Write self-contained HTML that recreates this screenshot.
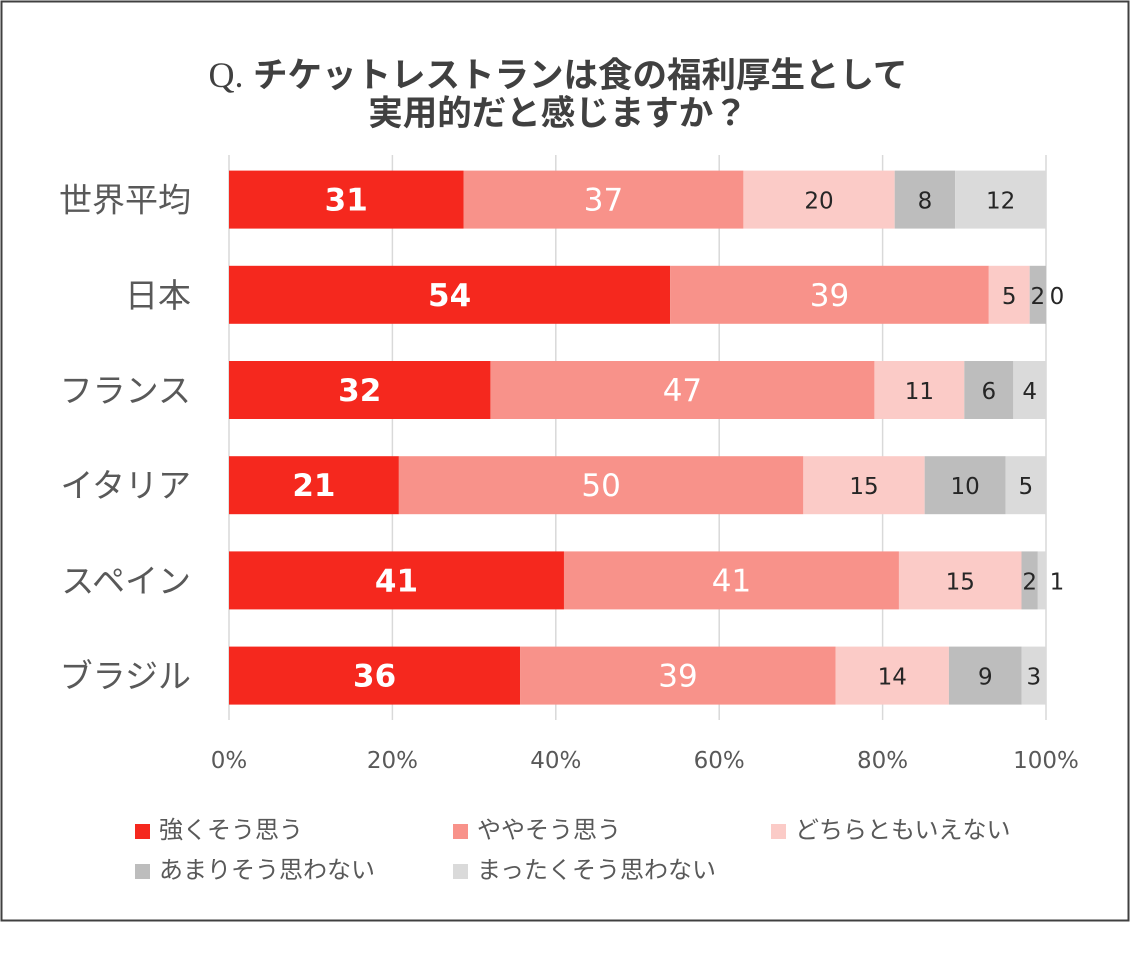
<!DOCTYPE html>
<html><head><meta charset="utf-8"><style>
body{margin:0;background:#fff;}
svg text{font-family:"Liberation Sans","Noto Sans CJK JP",sans-serif;}
svg text.num{font-family:"DejaVu Sans",sans-serif;}
</style></head><body>
<svg width="1131" height="948" xmlns="http://www.w3.org/2000/svg">
<rect x="1.5" y="1.5" width="1127" height="919" fill="#fff" stroke="#404040" stroke-width="2"/>
<text x="558" y="87" text-anchor="middle" font-size="34.5" font-weight="bold" fill="#404040"><tspan font-family="Liberation Serif" font-weight="normal" font-size="36">Q.</tspan> チケットレストランは食の福利厚生として</text>
<text x="558" y="125" text-anchor="middle" font-size="34.5" font-weight="bold" fill="#404040">実用的だと感じますか？</text>
<g id="grid"></g><g id="bars"></g><g id="legend"></g>
</svg>
<script>
const categories=["世界平均","日本","フランス","イタリア","スペイン","ブラジル"];
const s1=[31,54,32,21,41,36];
const s2=[37,39,47,50,41,39];
const s3=[20,5,11,15,15,14];
const s4=[8,2,6,10,2,9];
const s5=[12,0,4,5,1,3];
const seriesNames=["強くそう思う","ややそう思う","どちらともいえない","あまりそう思わない","まったくそう思わない"];
const ticks=[0,20,40,60,80,100];
const series=[s1,s2,s3,s4,s5];
const colors=["#F5281E","#F8928A","#FBCBC7","#BDBDBD","#DADADA"];
const ns="http://www.w3.org/2000/svg";
const X0=229,X1=1046,Y0=155,STEP=95.2,BH=58;
const xs=p=>X0+(X1-X0)*p/100;
const yc=i=>Y0+STEP*(i+0.5)-3;
function mk(t,a,p){const e=document.createElementNS(ns,t);for(const k in a)e.setAttribute(k,a[k]);p.appendChild(e);return e;}
const grid=document.getElementById('grid'),bars=document.getElementById('bars'),leg=document.getElementById('legend');
ticks.forEach(t=>{
 const l=mk('line',{x1:xs(t),x2:xs(t),y1:155,y2:720,stroke:'#D9D9D9','stroke-width':1.5},grid);
 
 
 const tx=mk('text',{x:xs(t),y:768,'text-anchor':'middle','font-size':23,fill:'#595959',class:'num'},grid);
 tx.textContent=t+'%';
 
 
});
categories.forEach((c,i)=>{
 const y=yc(i);
 const lb=mk('text',{x:191,y:y+12,'text-anchor':'end','font-size':33,fill:'#595959'},bars);
 lb.textContent=c;
 
 
 const tot=series.reduce((a,s)=>a+s[i],0);
 let acc=0;
 series.forEach((s,k)=>{
  const v=s[i];const a=xs(acc/tot*100);acc+=v;const b=xs(acc/tot*100);
  const r=mk('rect',{x:a,y:y-BH/2,width:Math.max(0,b-a),height:BH,fill:colors[k]},bars);
  
  
  const outside=v<=1;
  const t=mk('text',{x:outside?1057:(a+b)/2,y:y+(k<2?11:9),'text-anchor':'middle','font-size':k<2?31:23,'font-weight':k===0?'bold':'normal',fill:k<2?'#fff':'#262626',class:'num'},bars);
  t.textContent=v;
  
  
 });
});
const lx=[135,453,771,135,453],ly=[830,830,830,870,870];
seriesNames.forEach((n,k)=>{
 const r=mk('rect',{x:lx[k],y:ly[k]-6,width:15,height:15,fill:colors[k]},leg);
 
 
 const t=mk('text',{x:lx[k]+24,y:ly[k]+8,'font-size':24,fill:'#595959'},leg);
 t.textContent=n;
 
 
});
</script>
</body></html>
